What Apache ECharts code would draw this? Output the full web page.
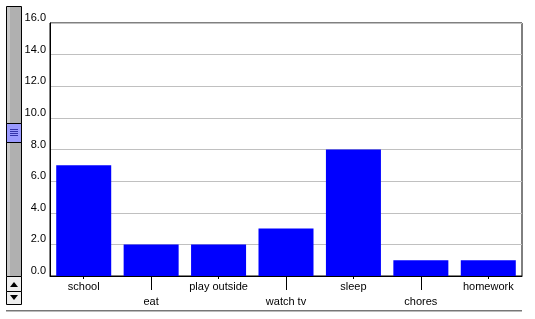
<!DOCTYPE html>
<html><head><meta charset="utf-8">
<script src="https://cdn.jsdelivr.net/npm/echarts@6/dist/echarts.min.js"></script>
<style>html,body{margin:0;padding:0;background:#fff}#c{width:535px;height:319px}</style>
</head><body><div id="c"></div>
<script>
const categories = ['school','eat','play outside','watch tv','sleep','chores','homework'];
const hours = [7, 2, 2, 3, 8, 1, 1];
const yMin = 0, yMax = 16, yStep = 2;

const chart = echarts.init(document.getElementById('c'), null, {renderer:'canvas'});
const font = '"Liberation Sans", Arial, sans-serif';
chart.setOption({
  animation: false,
  grid: {left: 50, top: 23, right: 13, bottom: 43, show: true, borderColor: '#000', borderWidth: 1},
  xAxis: [{
    type: 'category', data: categories, position: 'bottom',
    axisLine: {show: true, lineStyle: {color: '#000', width: 1}},
    axisTick: {show: true, alignWithLabel: true, length: 3, lineStyle: {color: '#000'},
      interval: (i) => i % 2 === 0},
    axisLabel: {interval: 0, margin: 3, fontFamily: font, fontSize: 11, color: '#000', lineHeight: 15,
      formatter: (v, i) => (i % 2 === 1 ? '\n' + v : v)},
    splitLine: {show: false}
  }, {
    type: 'category', data: categories, position: 'bottom',
    axisLine: {show: false},
    axisTick: {show: true, alignWithLabel: true, length: 14, lineStyle: {color: '#000'},
      interval: (i) => i % 2 === 1},
    axisLabel: {show: false}
  }],
  yAxis: {
    type: 'value', min: yMin, max: yMax, interval: yStep,
    axisLine: {show: true, lineStyle: {color: '#000'}},
    axisTick: {show: false},
    axisLabel: {margin: 4, fontFamily: font, fontSize: 11, color: '#000',
      verticalAlign: 'bottom', lineHeight: 10,
      formatter: (v) => v.toFixed(1)},
    splitLine: {show: true, lineStyle: {color: '#c0c0c0', width: 1}}
  },
  series: [{
    type: 'bar', data: hours, xAxisIndex: 0, barWidth: 55,
    itemStyle: {color: '#0000ff'}
  }],
  graphic: [
    {type: 'rect', shape: {x: 6.5, y: 6.5, width: 15, height: 270}, style: {fill: '#b0b0b0', stroke: '#000', lineWidth: 1}},
    {type: 'rect', shape: {x: 7, y: 7, width: 3, height: 269}, style: {fill: '#c8c8c8'}},
    {type: 'rect', shape: {x: 6.5, y: 123.5, width: 15, height: 19}, style: {fill: '#9a9aff', stroke: '#000', lineWidth: 1}},
    {type: 'line', shape: {x1: 10, y1: 129.5, x2: 18, y2: 129.5}, style: {stroke: '#3333aa', lineWidth: 1}},
    {type: 'line', shape: {x1: 10, y1: 131.5, x2: 18, y2: 131.5}, style: {stroke: '#3333aa', lineWidth: 1}},
    {type: 'line', shape: {x1: 10, y1: 133.5, x2: 18, y2: 133.5}, style: {stroke: '#3333aa', lineWidth: 1}},
    {type: 'line', shape: {x1: 10, y1: 135.5, x2: 18, y2: 135.5}, style: {stroke: '#3333aa', lineWidth: 1}},
    {type: 'rect', shape: {x: 6.5, y: 276.5, width: 15, height: 15}, style: {fill: '#eeeeee', stroke: '#000', lineWidth: 1}},
    {type: 'rect', shape: {x: 6.5, y: 291.5, width: 15, height: 13}, style: {fill: '#eeeeee', stroke: '#000', lineWidth: 1}},
    {type: 'polygon', shape: {points: [[10, 287], [18, 287], [14, 282]]}, style: {fill: '#000'}},
    {type: 'polygon', shape: {points: [[10, 295], [18, 295], [14, 300]]}, style: {fill: '#000'}},
    {type: 'rect', shape: {x: 6, y: 310, width: 516, height: 1}, style: {fill: '#777777'}},
    {type: 'rect', shape: {x: 6, y: 311, width: 516, height: 1}, style: {fill: '#bbbbbb'}}
  ]
});
</script></body></html>
